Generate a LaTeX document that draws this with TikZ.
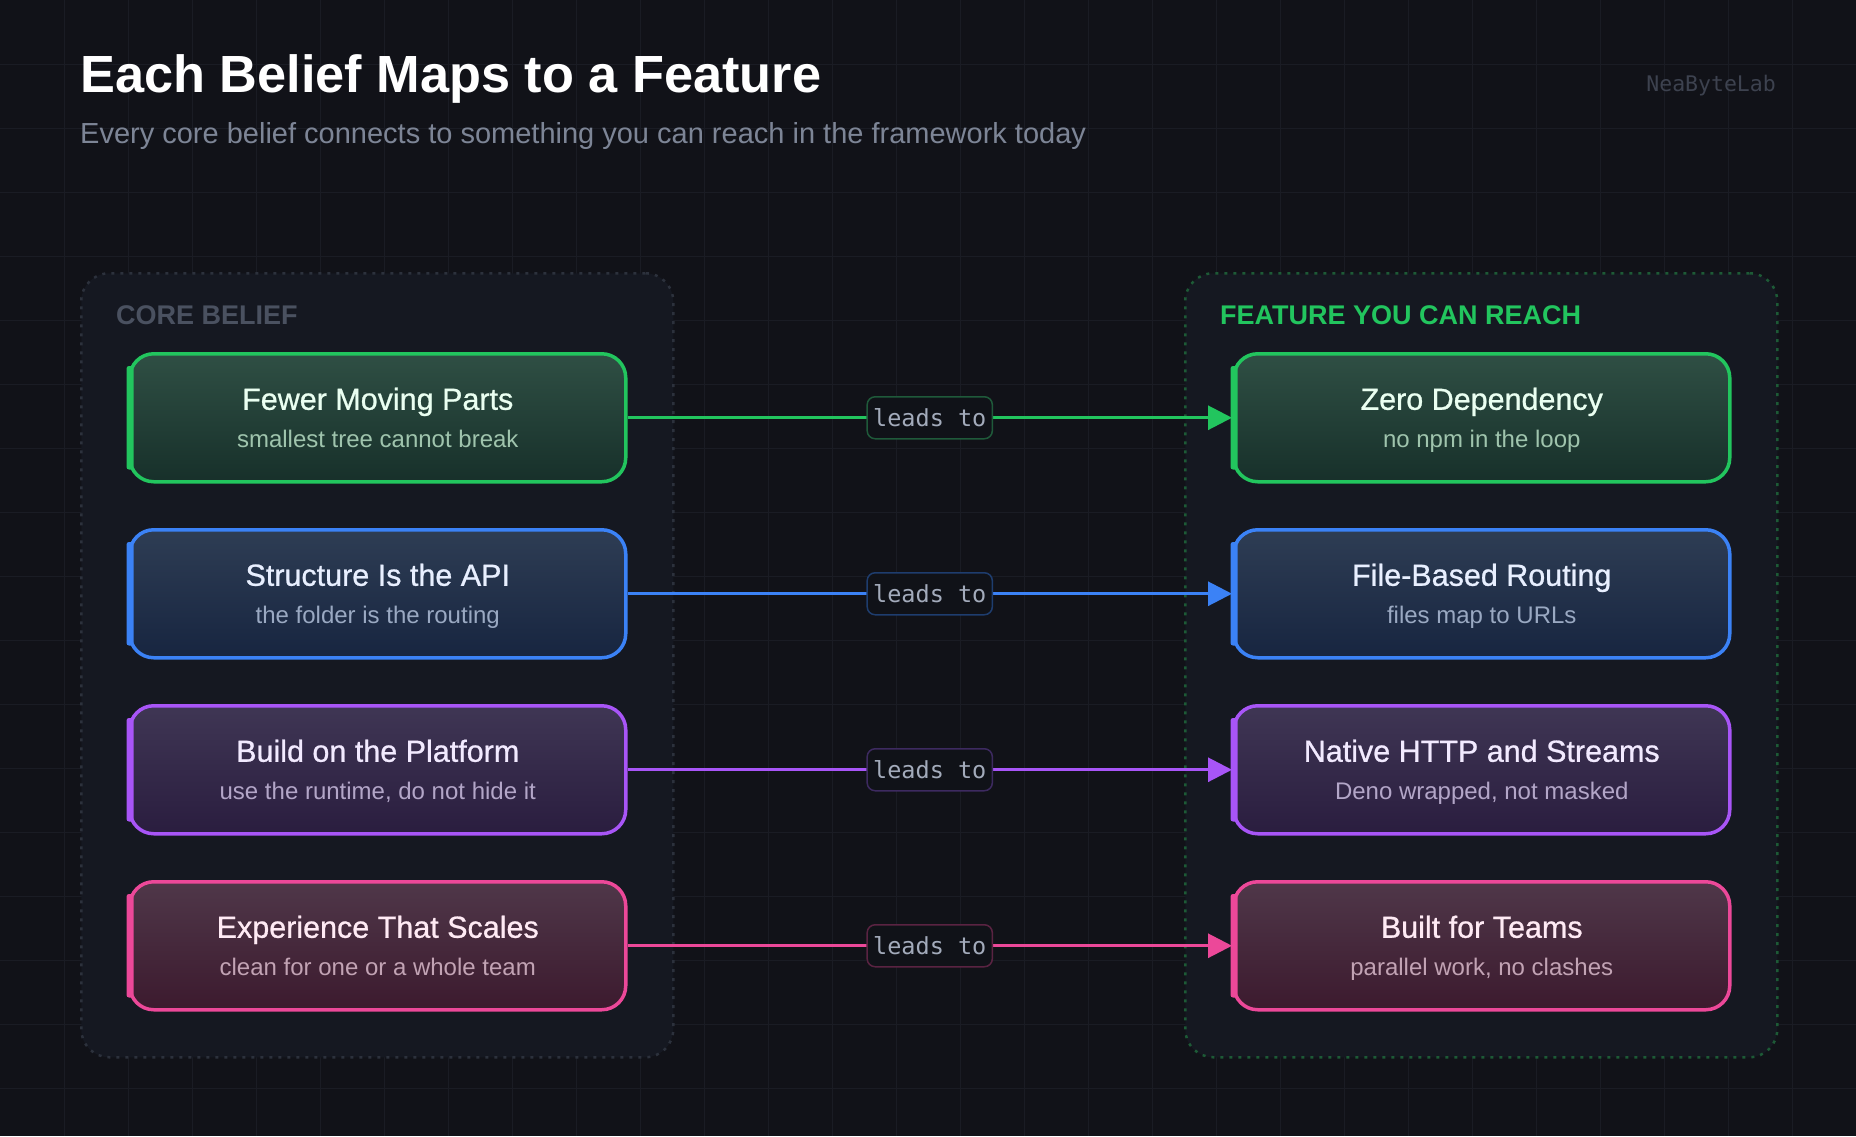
\documentclass[tikz,border=0pt]{standalone}
\usepackage{fontspec}
\setmainfont{Liberation Sans}
\newfontfamily\medfont[FakeBold=0.8]{Liberation Sans}
\newfontfamily\codefont{DejaVu Sans Mono}
\usetikzlibrary{arrows.meta,calc}
\definecolor{bgc}{HTML}{111218}
\definecolor{gridc}{HTML}{1A1C24}
\definecolor{panelc}{HTML}{151821}
\definecolor{leftdot}{HTML}{2C313C}
\definecolor{rightdot}{HTML}{1D5A36}
\definecolor{corec}{HTML}{4A5160}
\definecolor{featc}{HTML}{22C55E}
\definecolor{subtc}{HTML}{7D8596}
\definecolor{brandc}{HTML}{3D424F}
\definecolor{lbltext}{HTML}{A3ABBB}
\definecolor{lblfill}{HTML}{101218}
% green
\definecolor{gB}{HTML}{22C55E}\definecolor{gT}{HTML}{2F4F44}\definecolor{gD}{HTML}{17302A}
\definecolor{gX}{HTML}{EAFFF1}\definecolor{gS}{HTML}{9FC4AD}\definecolor{gL}{HTML}{1F5A3A}
% blue
\definecolor{bB}{HTML}{3B82F6}\definecolor{bT}{HTML}{2E3D54}\definecolor{bD}{HTML}{172540}
\definecolor{bX}{HTML}{E8EFFF}\definecolor{bS}{HTML}{9AA9C2}\definecolor{bL}{HTML}{1E3D6E}
% purple
\definecolor{pB}{HTML}{A855F7}\definecolor{pT}{HTML}{3F3654}\definecolor{pD}{HTML}{2A1D3F}
\definecolor{pX}{HTML}{F2EAFF}\definecolor{pS}{HTML}{B3A6C8}\definecolor{pL}{HTML}{3D2A60}
% pink
\definecolor{kB}{HTML}{EC4899}\definecolor{kT}{HTML}{4F3749}\definecolor{kD}{HTML}{3C1A2E}
\definecolor{kX}{HTML}{FFEAF4}\definecolor{kS}{HTML}{C2A3B4}\definecolor{kL}{HTML}{5A2342}

\tikzset{
  gridline/.style={draw=gridc, line width=1pt},
  container/.style={rectangle, rounded corners=28pt, fill=panelc, line width=2.5pt,
    dash pattern=on 3pt off 6pt, minimum width=592pt, minimum height=784pt, inner sep=0pt, anchor=north west},
  card/.style={rectangle, rounded corners=24pt, minimum width=496pt, minimum height=128pt,
    line width=3.5pt, inner sep=0pt, anchor=north west},
  cardtitle/.style={anchor=base, inner sep=0pt, font=\medfont\fontsize{30.5}{34}\selectfont},
  cardsub/.style={anchor=base, inner sep=0pt, font=\fontsize{24}{28}\selectfont},
  conn/.style={line width=3pt, -{Triangle[length=24pt,width=24pt]}},
  lbl/.style={rectangle, rounded corners=8pt, fill=lblfill, line width=1.5pt, text=lbltext,
    font=\codefont\fontsize{23.5}{27}\selectfont, minimum height=42pt, inner xsep=6pt, inner ysep=0pt},
  head/.style={anchor=base west, inner sep=0pt, font=\bfseries\fontsize{27}{32}\selectfont}
}

\newcommand{\cardrow}[7]{%
  \node[card, draw=#2B, top color=#2T, bottom color=#2D] (b#1) at (128,#3) {};
  \fill[#2B, rounded corners=2.5pt] ($(b#1.north west)+(-1.5,14)$) rectangle ($(b#1.south west)+(5.5,-14)$);
  \node[cardtitle, text=#2X] (b#1t) at ($(b#1.center)+(0,-8)$) {#4};
  \node[cardsub, text=#2S] (b#1s) at ($(b#1.center)+(0,30)$) {#5};
  \node[card, draw=#2B, top color=#2T, bottom color=#2D] (f#1) at (1232,#3) {};
  \fill[#2B, rounded corners=2.5pt] ($(f#1.north west)+(-1.5,14)$) rectangle ($(f#1.south west)+(5.5,-14)$);
  \node[cardtitle, text=#2X] (f#1t) at ($(f#1.center)+(0,-8)$) {#6};
  \node[cardsub, text=#2S] (f#1s) at ($(f#1.center)+(0,30)$) {#7};
  \draw[conn, draw=#2B, fill=#2B] (b#1.east) -- node[lbl, draw=#2L] (l#1) {leads to} (f#1.west);
}

\begin{document}
\begin{tikzpicture}[x=1pt,y=-1pt]
\fill[bgc] (0,0) rectangle (1856,1136);
\useasboundingbox (0,0) rectangle (1856,1136);
\foreach \gx in {64,128,...,1792} \draw[gridline] (\gx,0) -- (\gx,1136);
\foreach \gy in {64,128,...,1088} \draw[gridline] (0,\gy) -- (1856,\gy);

\node[anchor=base west, inner sep=0pt, text=white, font=\bfseries\fontsize{52.3}{60}\selectfont] (title) at (80,92) {Each Belief Maps to a Feature};
\node[anchor=base west, inner sep=0pt, text=subtc, font=\fontsize{29}{33}\selectfont] (subtitle) at (80,143) {Every core belief connects to something you can reach in the framework today};
\node[anchor=base east, inner sep=0pt, text=brandc, font=\codefont\fontsize{21.5}{25}\selectfont] (brand) at (1776,91) {NeaByteLab};

\node[container, draw=leftdot] (leftpanel) at (80,272) {};
\node[container, draw=rightdot] (rightpanel) at (1184,272) {};
\node[head, text=corec] (corehead) at (116,324) {CORE BELIEF};
\node[head, text=featc] (feathead) at (1220,324) {FEATURE YOU CAN REACH};

\cardrow{1}{g}{352}{Fewer Moving Parts}{smallest tree cannot break}{Zero Dependency}{no npm in the loop}
\cardrow{2}{b}{528}{Structure Is the API}{the folder is the routing}{File-Based Routing}{files map to URLs}
\cardrow{3}{p}{704}{Build on the Platform}{use the runtime, do not hide it}{Native HTTP and Streams}{Deno wrapped, not masked}
\cardrow{4}{k}{880}{Experience That Scales}{clean for one or a whole team}{Built for Teams}{parallel work, no clashes}
\end{tikzpicture}
\end{document}
